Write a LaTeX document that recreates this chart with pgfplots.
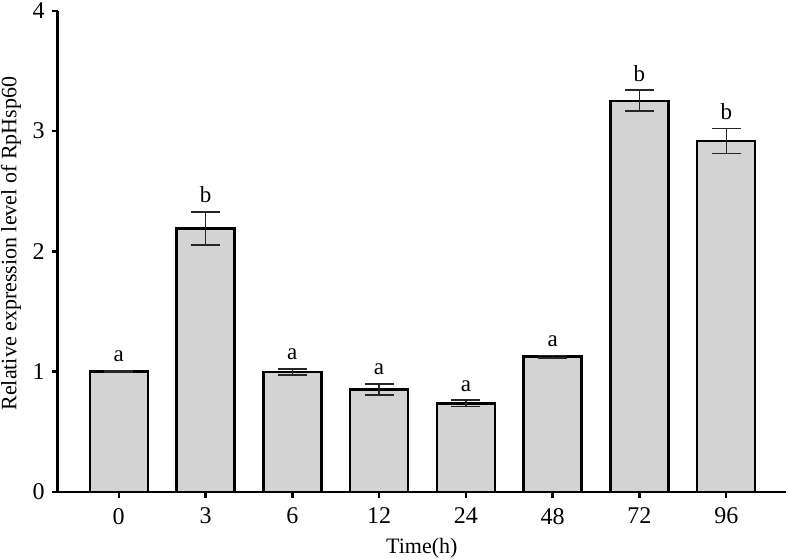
\documentclass[border=0pt]{standalone}
\usepackage{pgfplots}
\pgfplotsset{compat=1.18}
\usepackage{pgfplotstable}
\usepackage{fontspec}
\setmainfont{Liberation Serif}
\definecolor{barfill}{RGB}{211,211,211}
\pgfplotstableread{
x y err lab
0 1.003 0.004 a
1 2.19 0.139 b
2 0.997 0.026 a
3 0.852 0.045 a
4 0.736 0.027 a
5 1.125 0.010 a
6 3.252 0.087 b
7 2.917 0.102 b
}\datatable

\begin{document}
\begin{tikzpicture}
\begin{axis}[
  at={(0,0)}, anchor=south west,
  scale only axis, width=364.15pt, height=240.65pt,
  xmin=-0.703, xmax=7.688, ymin=0, ymax=4,
  axis x line=bottom, axis y line=left,
  axis line style={-, line width=1.2pt},
  xtick={0,...,7}, xticklabels={0,3,6,12,24,48,72,96},
  ytick={0,1,2,3,4},
  tick align=outside, major tick length=3pt,
  tick style={line width=1.2pt, black},
  ticklabel style={font=\fontsize{12}{14}\selectfont},
  xticklabel style={yshift=-1.5pt},
  /pgf/number format/assume math mode=true,
  xlabel={Time(h)}, ylabel={Relative expression level of RpHsp60},
  label style={font=\fontsize{11}{13}\selectfont},
  xlabel style={at={([yshift=-30.5pt]axis description cs:0.5,0)}, anchor=base, inner sep=0pt},
  ylabel style={at={([xshift=-18.1pt]axis description cs:0,0.516)}, anchor=south, inner sep=0pt},
  clip=false,
]
\addplot[ybar, bar width=29pt, bar shift=0pt, fill=barfill, draw=black, line width=1.2pt,
  error bars/.cd, y dir=both, y explicit,
  error bar style={line width=0.75pt, black!85},
  error mark options={rotate=90, mark size=7.25pt, line width=0.75pt, black!85}
] table[x=x, y=y, y error=err] {\datatable};
\addplot[draw=none, mark=none, nodes near coords, point meta=explicit symbolic,
  every node near coord/.style={anchor=south, inner sep=0pt, yshift=4.25pt, font=\fontsize{11.5}{13}\selectfont, text=black}]
  table[x=x, y expr=\thisrow{y}+\thisrow{err}, meta=lab] {\datatable};
\end{axis}
\pgfresetboundingbox
\path[use as bounding box] (-28.85pt,-33.5pt) rectangle (365.15pt,246pt);
\end{tikzpicture}
\end{document}
